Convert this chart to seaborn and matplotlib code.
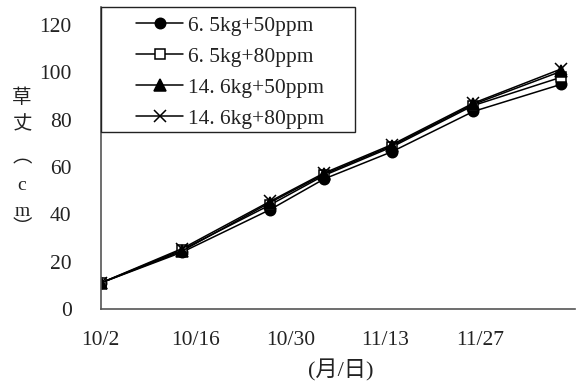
import matplotlib
matplotlib.use('Agg')
import matplotlib.pyplot as plt
from matplotlib.patches import Rectangle
import seaborn as sns
import pandas as pd

# measurement dates and plant height (cm) per treatment
dates = ['2008/10/2', '2008/10/14', '2008/10/27', '2008/11/4', '2008/11/14', '2008/11/26', '2008/12/9']
treatments = ['6. 5kg+50ppm', '6. 5kg+80ppm', '14. 6kg+50ppm', '14. 6kg+80ppm']
h_65_50 = [11, 24, 42, 55, 66.5, 83.5, 95]
h_65_80 = [11, 25, 44, 56.5, 68.5, 86, 98]
h_146_50 = [11, 24.5, 45, 57, 69, 86.5, 100.5]
h_146_80 = [11, 25.5, 45.5, 57.5, 69.5, 87, 101.5]
tick_dates = ['2008/10/2', '2008/10/16', '2008/10/30', '2008/11/13', '2008/11/27']
tick_labels = ['10/2', '10/16', '10/30', '11/13', '11/27']
y_ticks = [0, 20, 40, 60, 80, 100, 120]

x = pd.to_datetime(dates)

sns.set_style('white')
plt.rcParams['font.family'] = ['Liberation Serif', 'Noto Sans CJK SC', 'DejaVu Sans']

fig = plt.figure(figsize=(5.76, 3.85), dpi=100)
ax = fig.add_axes([0.1748, 0.1974, 0.8232, 0.7846])

styles = [
    dict(marker='o', markerfacecolor='black', markersize=7.5),
    dict(marker='s', markerfacecolor='white', markersize=7),
    dict(marker='^', markerfacecolor='black', markersize=8),
    dict(marker='x', markerfacecolor='black', markersize=8),
]
for name, vals, st in zip(treatments, [h_65_50, h_65_80, h_146_50, h_146_80], styles):
    sns.lineplot(x=x, y=vals, ax=ax, color='black', linewidth=1.1, label=name,
                 markeredgecolor='black', markeredgewidth=1.1, **st)

ax.set_xlim(pd.to_datetime('2008/10/2'), pd.to_datetime('2008/12/11'))
ax.set_ylim(0, 127.7)
ax.set_xticks(pd.to_datetime(tick_dates))
ax.set_xticklabels(tick_labels)
ax.set_yticks(y_ticks)
ax.set_xlabel('')
ax.set_ylabel('')

for s in ['top', 'right']:
    ax.spines[s].set_visible(False)
for s in ['left', 'bottom']:
    ax.spines[s].set_color('#555555')
    ax.spines[s].set_linewidth(1.2)
ax.tick_params(axis='both', direction='in', length=5, width=1, colors='#333333',
               labelsize=15.5, labelcolor='#222222')
ax.tick_params(axis='y', pad=21)
ax.tick_params(axis='x', pad=16)

# legend frame (Excel style box hugging the axis corner)
frame = Rectangle((0, (309 - 132) / 302), (355 - 100.7) / 474.2, 1 - (309 - 132) / 302,
                  transform=ax.transAxes, facecolor='white', edgecolor='#222222',
                  linewidth=1.0, zorder=4, clip_on=False)
ax.add_patch(frame)

handles, labels = ax.get_legend_handles_labels()
leg = ax.legend(handles, labels, loc='upper left',
                bbox_to_anchor=((136 - 100.7) / 474.2, (309 - 16) / 302),
                borderaxespad=0, borderpad=0, frameon=False, fontsize=15.5,
                handlelength=2.19, handletextpad=0.21, labelspacing=0.5)
leg.set_zorder(5)
for t in leg.get_texts():
    t.set_color('#222222')

# vertical y-axis label
ylab_chars = ['草', '丈', '︵', 'c', 'm', '︶']
ylab_y = [98, 125, 158, 185, 212, 228]
for ch, py in zip(ylab_chars, ylab_y):
    fig.text(22 / 576, 1 - py / 385, ch, ha='center', va='center', fontsize=14,
             color='#222222', family=['Liberation Serif', 'Noto Sans CJK SC'])

fig.text(341 / 576, 1 - 370 / 385, '(月/日)', ha='center', va='center', fontsize=16,
         color='#222222', family=['Liberation Serif', 'Noto Sans CJK SC'])

fig.savefig('out.png', dpi=100)
